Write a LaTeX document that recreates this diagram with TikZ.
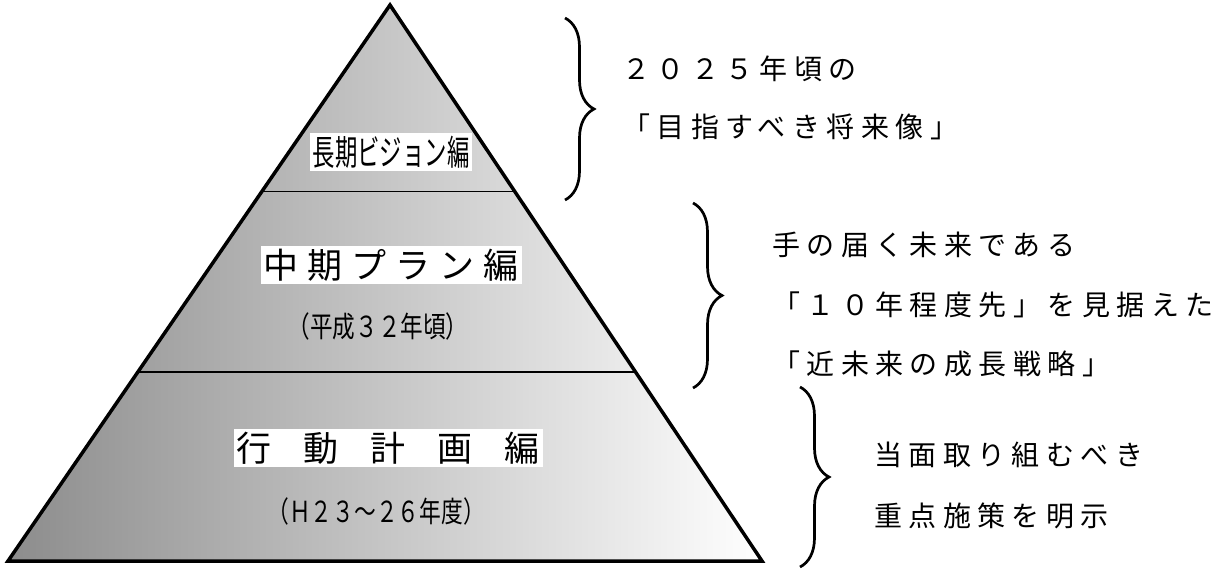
\documentclass[tikz,border=0pt]{standalone}
\usepackage{fontspec}
\setmainfont{Noto Sans CJK JP}
\newfontfamily\sidefont[LetterSpace=23]{Noto Sans CJK JP}
\usetikzlibrary{calc, positioning, decorations.pathreplacing}

\begin{document}
\begin{tikzpicture}[x=1pt, y=-1pt,
  side/.style={anchor=west, inner sep=0pt, font=\sidefont\fontsize{28}{34}\selectfont},
  level/.style={fill=white, inner sep=3pt, font=\fontsize{35}{40}\selectfont},
  sub/.style={inner sep=0pt, font=\fontsize{29}{34}\selectfont},
  bracket/.style={decorate, decoration={brace, amplitude=29pt}, line width=2.7pt}]
\useasboundingbox (0,0) rectangle (1223,570);
% pyramid %
\coordinate (top) at (390,5);
\coordinate (bl) at (8,561);
\coordinate (br) at (762,561);
\coordinate (l1) at ($(top)!0.335!(bl)$);
\coordinate (r1) at ($(top)!0.335!(br)$);
\coordinate (l2) at ($(top)!0.660!(bl)$);
\coordinate (r2) at ($(top)!0.660!(br)$);
\shade[left color=black!45, middle color=black!13, right color=white] (top) -- (bl) -- (br) -- cycle;
\draw[line width=1.5pt] (l1) -- (r1);
\draw[line width=1.5pt] (l2) -- (r2);
\draw[line width=3.5pt, line join=miter] (top) -- (bl) -- (br) -- cycle;
% nodes %
\node[level] (long) at (391,152) {\scalebox{0.64}[1]{長期ビジョン編}};
\node[level] (mid) at (391,265) {中\hspace{9pt}期\hspace{9pt}プ\hspace{9pt}ラ\hspace{9pt}ン\hspace{9pt}編};
\node[sub] (midyear) at (378,326) {\scalebox{0.78}[1]{（平成３２年頃）}};
\node[level] (act) at (388,448) {行\hspace{32pt}動\hspace{32pt}計\hspace{32pt}画\hspace{32pt}編};
\node[sub] (actyear) at (376,511) {\scalebox{0.75}[1]{（Ｈ２３～２６年度）}};
\node[side] (far1) at (622,69) {２０２５年頃の};
\node[side, below=58pt of far1.west, anchor=west] (far2) {「目指すべき将来像」};
\node[side] (near1) at (772,245) {手の届く未来である};
\node[side, below=60pt of near1.west, anchor=west] (near2) {「１０年程度先」を見据えた};
\node[side, below=59pt of near2.west, anchor=west] (near3) {「近未来の成長戦略」};
\node[side] (now1) at (874,455) {当面取り組むべき};
\node[side, below=61pt of now1.west, anchor=west] (now2) {重点施策を明示};
% braces %
\coordinate (b1a) at (565,18);
\coordinate (b1b) at (565,200);
\coordinate (b2a) at (693,203);
\coordinate (b2b) at (693,388);
\coordinate (b3a) at (800,387);
\coordinate (b3b) at (800,567);
\draw[bracket] (b1a) -- (b1b);
\draw[bracket] (b2a) -- (b2b);
\draw[bracket] (b3a) -- (b3b);
\end{tikzpicture}
\end{document}
